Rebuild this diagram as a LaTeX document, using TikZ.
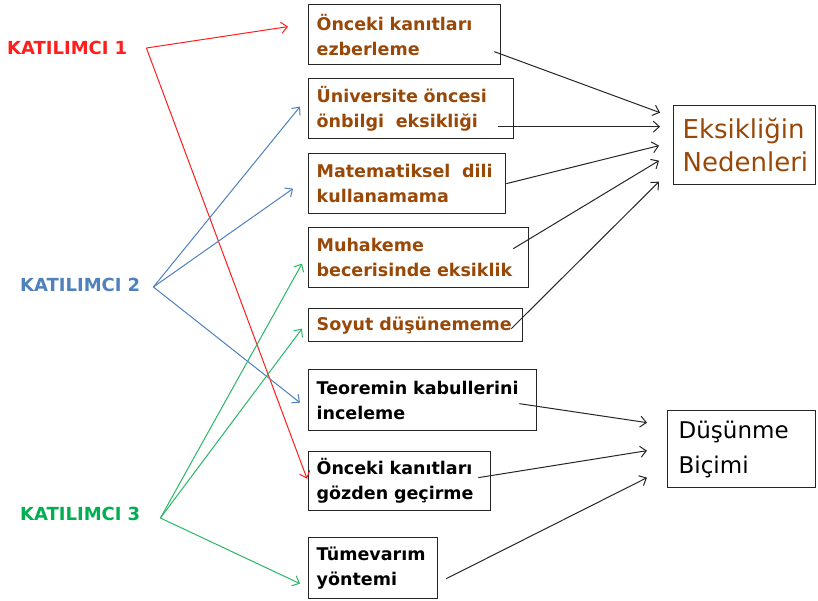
\documentclass[tikz,border=0pt]{standalone}
\usepackage{fontspec}
\setmainfont{DejaVu Sans}
\usetikzlibrary{arrows.meta,calc}
\definecolor{brn}{RGB}{152,72,7}
\definecolor{kred}{RGB}{255,30,30}
\definecolor{kblue}{RGB}{79,129,189}
\definecolor{kgreen}{RGB}{0,176,80}
\definecolor{lgreen}{RGB}{40,185,100}
\begin{document}
\begin{tikzpicture}[x=1pt,y=-1pt,
  box/.style={draw=black!85, line width=1.3pt, anchor=north west, align=left,
    inner xsep=8pt, inner ysep=0pt, font=\fontsize{17.5}{25}\selectfont\bfseries},
  bigbox/.style={draw=black!85, line width=1.3pt, anchor=north west, align=left,
    inner ysep=0pt},
  lab/.style={anchor=west, inner sep=0pt, align=left, font=\fontsize{18}{22}\selectfont\bfseries},
  arr/.style={line width=1pt, -{Straight Barb[length=6pt,width=11pt]}}
]
\useasboundingbox[fill=white] (0,0) rectangle (818,600);

% participants
\node[lab, text=kred, text width=139pt] (k1) at (7,48) {KATILIMCI 1};
\node[lab, text=kblue, text width=133pt] (k2) at (20,285) {KATILIMCI 2};
\node[lab, text=kgreen, text width=140pt] (k3) at (20,514) {KATILIMCI 3};

% boxes
\node[box, text=brn, minimum width=192pt, minimum height=60pt, text width=176pt] (b1) at (308,4) {Önceki kanıtları\\ezberleme};
\node[box, text=brn, minimum width=205pt, minimum height=60pt, text width=189pt] (b2) at (308,78) {Üniversite öncesi\\önbilgi\ \ eksikliği};
\node[box, text=brn, minimum width=197pt, minimum height=60pt, text width=181pt] (b3) at (308,153) {Matematiksel\ \ dili\\kullanamama};
\node[box, text=brn, minimum width=220pt, minimum height=60pt, text width=204pt] (b4) at (308,227) {Muhakeme\\becerisinde eksiklik};
\node[box, text=brn, minimum width=214pt, minimum height=33pt, text width=198pt] (b5) at (308,308) {Soyut düşünememe};
\node[box, text=black, minimum width=228pt, minimum height=61pt, text width=212pt] (b6) at (308,369) {Teoremin kabullerini\\inceleme};
\node[box, text=black, minimum width=182pt, minimum height=59pt, text width=166pt] (b7) at (308,451) {Önceki kanıtları\\gözden geçirme};
\node[box, text=black, minimum width=129pt, minimum height=61pt, text width=113pt] (b8) at (308,537) {Tümevarım\\yöntemi};

\node[bigbox, text=brn, minimum width=142pt, minimum height=79pt, inner xsep=9pt, text width=124pt,
  font=\fontsize{26}{33}\selectfont] (eks) at (673,105) {Eksikliğin\\Nedenleri};
\node[bigbox, text=black, minimum width=148pt, minimum height=77pt, inner xsep=11pt, text width=126pt,
  font=\fontsize{23}{35}\selectfont] (dus) at (667,410) {Düşünme\\Biçimi};

% participant arrows
\draw[arr, kred] (k1.east) -- ($(b1.west)+(-20,-8)$);
\draw[arr, kred] (k1.east) -- ($(b7.west)+(-1,-2.5)$);
\draw[arr, kblue] ($(k2.east)+(0,2)$) -- ($(b2.west)+(-8,-2)$);
\draw[arr, kblue] ($(k2.east)+(0,2)$) -- ($(b3.west)+(-15,5)$);
\draw[arr, kblue] ($(k2.east)+(0,2)$) -- ($(b6.west)+(-8,2.5)$);
\draw[arr, lgreen] ($(k3.east)+(0,4)$) -- ($(b4.west)+(-6,6)$);
\draw[arr, lgreen] ($(k3.east)+(0,4)$) -- ($(b5.west)+(-6,3.5)$);
\draw[arr, lgreen] ($(k3.east)+(0,4)$) -- ($(b8.west)+(-8,15.5)$);

% cause arrows
\draw[arr, black!85] ($(b1.east)+(-7,17)$) -- ($(eks.west)+(-13,-32.5)$);
\draw[arr, black!85] ($(b2.east)+(-16,18)$) -- ($(eks.west)+(-13,-18.5)$);
\draw[arr, black!85] (b3.east) -- ($(eks.west)+(-14,0.5)$);
\draw[arr, black!85] ($(b4.east)+(-16,-9)$) -- ($(eks.west)+(-14,15.5)$);
\draw[arr, black!85] ($(b5.east)+(-12,3.5)$) -- ($(eks.west)+(-14,36.5)$);
\draw[arr, black!85] ($(b6.east)+(-18,3.5)$) -- ($(dus.west)+(-20,-26.5)$);
\draw[arr, black!85] ($(b7.east)+(-13,-3.5)$) -- ($(dus.west)+(-20,1.5)$);
\draw[arr, black!85] ($(b8.east)+(8,10.5)$) -- ($(dus.west)+(-20,28.5)$);
\end{tikzpicture}
\end{document}
